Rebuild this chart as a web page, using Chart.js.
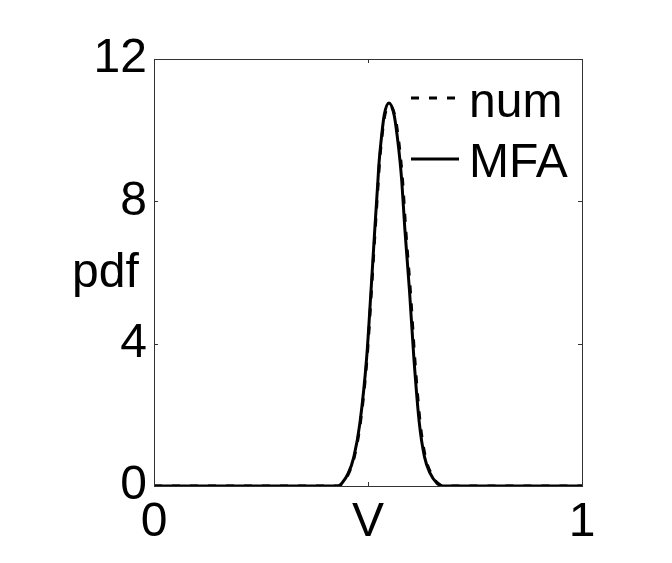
<!DOCTYPE html>
<html>
<head>
<meta charset="utf-8">
<script src="https://cdn.jsdelivr.net/npm/chart.js@4"></script>
<style>
    html, body { margin: 0; padding: 0; background: #fff; }
    #wrap { width: 672px; height: 563px; }
</style>
</head>
<body>
<div id="wrap"><canvas id="myChart" width="672" height="563"></canvas></div>
<script>
// data
const xTicks = [0, 0.5, 1]
const xTickLabels = ['0', 'V', '1']
const yTicks = [0, 4, 8, 12]

const mfaX = [0, 0.40, 0.430, 0.439, 0.454, 0.467, 0.481, 0.497, 0.507, 0.516, 0.523, 0.526, 0.532, 0.538, 0.549, 0.561, 0.568, 0.575, 0.579, 0.586, 0.597, 0.607, 0.620, 0.632, 0.645, 0.661, 0.675, 0.70, 1]
const mfaY = [0, 0, 0, 0.08, 0.36, 0.82, 1.76, 3.63, 5.48, 7.24, 8.55, 9.11, 9.86, 10.43, 10.76, 10.43, 9.86, 9.11, 8.55, 7.24, 5.48, 3.63, 1.76, 0.82, 0.36, 0.08, 0, 0, 0]

const numX = [0, 0.40, 0.431, 0.440, 0.455, 0.468, 0.482, 0.498, 0.508, 0.517, 0.524, 0.527, 0.533, 0.539, 0.550, 0.563, 0.570, 0.577, 0.581, 0.588, 0.599, 0.609, 0.622, 0.634, 0.647, 0.663, 0.677, 0.70, 1]
const numY = [0, 0, 0, 0.08, 0.36, 0.82, 1.76, 3.63, 5.48, 7.24, 8.55, 9.11, 9.86, 10.40, 10.70, 10.40, 9.86, 9.11, 8.55, 7.24, 5.48, 3.63, 1.76, 0.82, 0.36, 0.08, 0, 0, 0]

const FONT = '"Liberation Sans", Arial, Helvetica, sans-serif'
const AXIS = '#333333'

const toPoints = (xs, ys) => xs.map((x, i) => ({ x: x, y: ys[i] }))

// box, inward ticks, ylabel and legend, matlab style
const matlabBits = {
    id: 'matlabBits',
    afterDatasetsDraw(chart) {
        const ctx = chart.ctx
        const a = chart.chartArea
        const xs = chart.scales.x
        const ys = chart.scales.y
        ctx.save()
        ctx.strokeStyle = AXIS
        ctx.lineWidth = 1
        ctx.setLineDash([])
        ctx.strokeRect(Math.round(a.left) + 0.5, Math.round(a.top) + 0.5, Math.round(a.right - a.left), Math.round(a.bottom - a.top))
        ctx.beginPath()
        yTicks.forEach(v => {
            const py = Math.round(ys.getPixelForValue(v)) + 0.5
            ctx.moveTo(a.left, py); ctx.lineTo(a.left + 4, py)
            ctx.moveTo(a.right, py); ctx.lineTo(a.right - 4, py)
        })
        xTicks.forEach(v => {
            const px = Math.round(xs.getPixelForValue(v)) + 0.5
            ctx.moveTo(px, a.bottom); ctx.lineTo(px, a.bottom - 4)
            ctx.moveTo(px, a.top); ctx.lineTo(px, a.top + 4)
        })
        ctx.stroke()

        // ylabel, not rotated
        ctx.fillStyle = '#000'
        ctx.font = '48px ' + FONT
        ctx.textAlign = 'left'
        ctx.textBaseline = 'alphabetic'
        ctx.fillText('pdf', a.left - 82, 287)

        // legend
        const lx0 = a.right - 171
        const lx1 = a.right - 123
        const tx = a.right - 113
        chart.data.datasets.forEach((ds, i) => {
            const ly = [98, 159][i]
            ctx.beginPath()
            ctx.strokeStyle = ds.borderColor
            ctx.lineWidth = ds.borderWidth
            ctx.setLineDash(ds.borderDash || [])
            ctx.moveTo(lx0, ly); ctx.lineTo(lx1, ly)
            ctx.stroke()
            ctx.setLineDash([])
            ctx.fillText(ds.label, tx, [117, 177][i])
        })
        ctx.restore()
    }
}

const data = {
    datasets: [{
        label: 'num',
        data: toPoints(numX, numY),
        borderColor: '#000',
        borderWidth: 3,
        borderDash: [8, 10],
        pointRadius: 0,
        cubicInterpolationMode: 'monotone',
        fill: false
    }, {
        label: 'MFA',
        data: toPoints(mfaX, mfaY),
        borderColor: '#000',
        borderWidth: 3,
        pointRadius: 0,
        cubicInterpolationMode: 'monotone',
        fill: false
    }]
}

const config = {
    type: 'line',
    data,
    plugins: [matlabBits],
    options: {
        responsive: false,
        animation: false,
        layout: { padding: { top: 59, right: 90, left: 0, bottom: 0 } },
        plugins: {
            legend: { display: false },
            tooltip: { enabled: false }
        },
        scales: {
            x: {
                type: 'linear',
                min: 0,
                max: 1,
                border: { display: false },
                grid: { display: false, drawTicks: false },
                afterBuildTicks: scale => { scale.ticks = xTicks.map(v => ({ value: v })) },
                afterFit: scale => { scale.height = 77 },
                ticks: {
                    color: '#000',
                    padding: 8,
                    maxRotation: 0,
                    autoSkip: false,
                    font: { family: FONT, size: 48 },
                    callback: (v) => xTickLabels[xTicks.indexOf(v)]
                }
            },
            y: {
                min: 0,
                max: 12,
                border: { display: false },
                grid: { display: false, drawTicks: false },
                afterBuildTicks: scale => { scale.ticks = yTicks.map(v => ({ value: v })) },
                afterFit: scale => { scale.width = 154 },
                ticks: {
                    color: '#000',
                    padding: 7,
                    autoSkip: false,
                    font: { family: FONT, size: 48 }
                }
            }
        }
    }
}

const myChart = new Chart(
    document.getElementById('myChart'),
    config
)
</script>
</body>
</html>
